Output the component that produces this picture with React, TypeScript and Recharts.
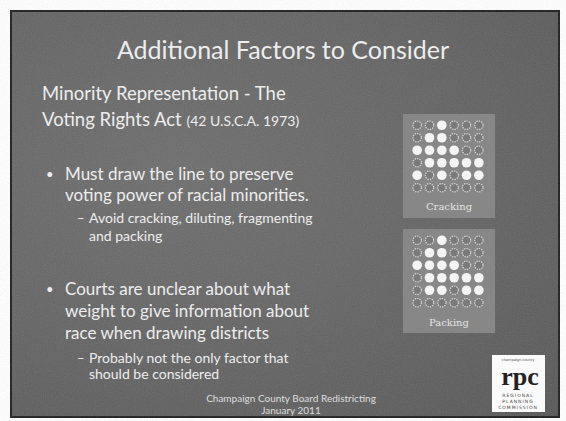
import React from "react";
import { ScatterChart, Scatter, XAxis, YAxis } from "recharts";

// 6x6 district grids, "1" = minority voter (filled circle)
const crackingRows = ["001000", "011000", "111100", "011111", "101011", "000000"];
const packingRows = ["001000", "011000", "111100", "011111", "011011", "000000"];
const gridLabels = ["Cracking", "Packing"];

const titleText = "Additional Factors to Consider";
const subtitleLines = ["Minority Representation - The", "Voting Rights Act"];
const subtitleNote = "(42 U.S.C.A. 1973)";
const bullet1 = ["Must draw the line to preserve", "voting power of racial minorities."];
const sub1 = ["Avoid cracking, diluting, fragmenting", "and packing"];
const bullet2 = ["Courts are unclear about what", "weight to give information about", "race when drawing districts"];
const sub2 = ["Probably not the only factor that", "should be considered"];
const footer = ["Champaign County Board Redistricting", "January 2011"];

const toPoints = (rows: string[], filled: boolean) => {
  const pts: { col: number; row: number }[] = [];
  rows.forEach((r, ri) =>
    r.split("").forEach((c, ci) => {
      if ((c === "1") === filled) pts.push({ col: ci + 1, row: ri + 1 });
    })
  );
  return pts;
};

const FONT = "Lato, 'Open Sans', sans-serif";
const TXT = "#ededed";

const filledDot = (p: any) => <circle cx={p.cx} cy={p.cy} r={4.8} fill="#f4f4f4" />;
const hollowDot = (p: any) => (
  <circle cx={p.cx} cy={p.cy} r={4.2} fill="#7a7a7a" stroke="#d6d6d6" strokeWidth={1.2} strokeDasharray="1.4 1" />
);

const GridPanel = ({ rows, top }: { rows: string[]; top: number }) => (
  <div style={{ position: "absolute", left: 403, top, width: 92, height: 104, background: "#878787" }}>
    <ScatterChart width={92} height={104} margin={{ top: 5, right: 10, bottom: 24, left: 8 }}>
      <XAxis type="number" dataKey="col" domain={[0.5, 6.5]} hide />
      <YAxis type="number" dataKey="row" domain={[0.5, 6.5]} reversed hide />
      <Scatter data={toPoints(rows, false)} shape={hollowDot} isAnimationActive={false} />
      <Scatter data={toPoints(rows, true)} shape={filledDot} isAnimationActive={false} />
    </ScatterChart>
  </div>
);

const App = () => {
  return (
    <div style={{ position: "absolute", left: 0, top: 0, width: 566, height: 421, background: "#fff", overflow: "hidden" }}>
      <div
        style={{
          position: "absolute",
          left: 10,
          top: 10,
          width: 546,
          height: 404,
          border: "2px solid #1e1e1e",
          background: "radial-gradient(ellipse at 30% 40%, #6e6e6e 0%, #626262 60%, #575757 100%)",
        }}
      />
      <svg width={566} height={421} style={{ position: "absolute", left: 0, top: 0, pointerEvents: "none" }}>
        <defs>
          <filter id="grain">
            <feTurbulence type="fractalNoise" baseFrequency="0.9" numOctaves={2} seed={3} />
            <feColorMatrix type="saturate" values="0" />
          </filter>
        </defs>
        <rect x={12} y={12} width={546} height={404} filter="url(#grain)" opacity={0.15} />
      </svg>
      <GridPanel rows={crackingRows} top={114} />
      <GridPanel rows={packingRows} top={229} />
      <svg width={566} height={421} style={{ position: "absolute", left: 0, top: 0, pointerEvents: "none" }}>
        <g fontFamily={FONT} fill={TXT}>
          <text x={283} y={59} fontSize={25} textAnchor="middle">{titleText}</text>
          <text x={42} y={100} fontSize={18.5}>{subtitleLines[0]}</text>
          <text x={42} y={126} fontSize={18.5}>
            {subtitleLines[1]} <tspan fontSize={14}>{subtitleNote}</tspan>
          </text>

          <text x={46} y={179} fontSize={13}>•</text>
          {bullet1.map((t, i) => (
            <text key={t} x={65} y={180 + i * 21} fontSize={17}>{t}</text>
          ))}
          <text x={77} y={223} fontSize={13}>–</text>
          {sub1.map((t, i) => (
            <text key={t} x={89} y={223 + i * 18} fontSize={14}>{t}</text>
          ))}

          <text x={46} y={294} fontSize={13}>•</text>
          {bullet2.map((t, i) => (
            <text key={t} x={65} y={295 + i * 22} fontSize={17}>{t}</text>
          ))}
          <text x={77} y={363} fontSize={13}>–</text>
          {sub2.map((t, i) => (
            <text key={t} x={89} y={363 + i * 16} fontSize={14}>{t}</text>
          ))}

          {footer.map((t, i) => (
            <text key={t} x={291} y={402 + i * 12} fontSize={10} textAnchor="middle" fill="#dedede">{t}</text>
          ))}
        </g>
        <g fontFamily="'DejaVu Serif', serif" fill="#e4e4e4" fontSize={10} textAnchor="middle">
          <text x={449} y={210}>{gridLabels[0]}</text>
          <text x={449} y={326}>{gridLabels[1]}</text>
        </g>
        <g>
          <rect x={492} y={355} width={53} height={57} fill="#fafafa" />
          <text x={518} y={361} fontSize={3.5} fill="#555" textAnchor="middle" fontFamily="'DejaVu Sans'">champaign county</text>
          <text x={520} y={385} fontSize={26} fontWeight="bold" fill="#222" textAnchor="middle" fontFamily="'Liberation Serif', serif">rpc</text>
          <g fontSize={4.5} fill="#444" textAnchor="middle" fontFamily="'DejaVu Sans'" letterSpacing={1}>
            <text x={518} y={397}>REGIONAL</text>
            <text x={518} y={403}>PLANNING</text>
            <text x={518} y={409}>COMMISSION</text>
          </g>
        </g>
      </svg>
    </div>
  );
};

export default App;
